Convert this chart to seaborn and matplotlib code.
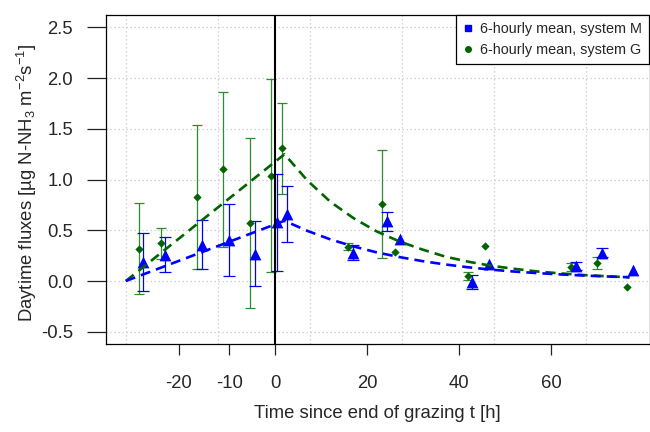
import matplotlib
matplotlib.use("Agg")
import matplotlib.pyplot as plt
import numpy as np
import pandas as pd
import seaborn as sns
from matplotlib.lines import Line2D

# ---- data -------------------------------------------------------------
# system G: 6-hourly means (time in h since end of grazing, flux, +/- error)
g_time = [-29.6, -24.9, -17.1, -11.3, -5.4, -0.9, 1.4, 15.7, 23.3, 26.0, 41.8, 45.6, 64.3, 69.9, 76.5]
g_flux = [0.32, 0.37, 0.83, 1.10, 0.57, 1.04, 1.31, 0.34, 0.76, 0.29, 0.05, 0.35, 0.14, 0.18, -0.06]
g_err = [0.45, 0.15, 0.71, 0.76, 0.84, 0.95, 0.45, 0.03, 0.53, 0.0, 0.04, 0.0, 0.04, 0.06, 0.0]

# system M: 6-hourly means
m_time = [-28.7, -23.9, -16.0, -10.1, -4.4, 0.3, 2.5, 16.8, 24.2, 27.1, 42.8, 46.5, 65.4, 71.0, 77.7]
m_flux = [0.19, 0.26, 0.36, 0.40, 0.27, 0.58, 0.66, 0.28, 0.59, 0.41, -0.01, 0.165, 0.15, 0.28, 0.11]
m_err = [0.285, 0.175, 0.245, 0.355, 0.32, 0.48, 0.28, 0.075, 0.095, 0.0, 0.07, 0.0, 0.04, 0.045, 0.0]

# emission model curves (linear rise, then decay after grazing)
curve_t = [-32.5, 2, 7, 12, 17, 22, 27, 32, 37, 42, 47, 52, 57, 62, 67, 72, 77]
curve_g = [0.0, 1.25, 0.99, 0.78, 0.62, 0.49, 0.39, 0.31, 0.24, 0.19, 0.15, 0.12, 0.094, 0.075, 0.059, 0.047, 0.037]
curve_m = [0.0, 0.594, 0.494, 0.41, 0.341, 0.283, 0.236, 0.196, 0.163, 0.135, 0.112, 0.093, 0.078, 0.065, 0.054, 0.045, 0.037]

# axis annotation
x_tick_pos = [-21, -10, 0, 20, 40, 60]
x_tick_labels = ["-20", "-10", "0", "20", "40", "60"]
y_ticks = [-0.5, 0.0, 0.5, 1.0, 1.5, 2.0, 2.5]
y_tick_labels = ["-0.5", "0.0", "0.5", "1.0", "1.5", "2.0", "2.5"]
grid_x = [-32.5, -12.5, 7.5, 27.5, 47.5, 67.5]

label_m = "6-hourly mean, system M"
label_g = "6-hourly mean, system G"

# ---- style --------------------------------------------------------------
sns.set_theme(style="white")
plt.rcParams["font.family"] = ["Liberation Sans", "DejaVu Sans"]
plt.rcParams["mathtext.fontset"] = "custom"
plt.rcParams["mathtext.rm"] = "Liberation Sans"
plt.rcParams["mathtext.it"] = "Liberation Sans:italic"
plt.rcParams["mathtext.bf"] = "Liberation Sans:bold"

BLUE = "#0000ff"
DKGREEN = "#006400"
ERRGREEN = "#2e8b2e"
FS = 13.3

fig = plt.figure(figsize=(6.5, 4.32), dpi=100)
ax = fig.add_axes([105.7 / 650, 88 / 432, 543.8 / 650, 329 / 432])
ax.set_xlim(-36.87, 81.35)
ax.set_ylim(-0.621, 2.623)

# dotted background grid
for gx in grid_x:
    ax.axvline(gx, color="#c8c8c8", lw=0.9, ls=(0, (1, 2.2)), zorder=0)
for gy in y_ticks:
    ax.axhline(gy, color="#c8c8c8", lw=0.9, ls=(0, (1, 2.2)), zorder=0)

dg = pd.DataFrame({"t": g_time, "flux": g_flux, "err": g_err})
dm = pd.DataFrame({"t": m_time, "flux": m_flux, "err": m_err})
dc = pd.DataFrame({"t": curve_t, "G": curve_g, "M": curve_m})

# error bars
eg = dg[dg["err"] > 0]
ax.errorbar(eg["t"], eg["flux"], yerr=eg["err"], fmt="none", ecolor=ERRGREEN,
            elinewidth=0.9, capsize=3.6, capthick=0.9, zorder=2)
em = dm[dm["err"] > 0]
ax.errorbar(em["t"], em["flux"], yerr=em["err"], fmt="none", ecolor=BLUE,
            elinewidth=0.9, capsize=4.2, capthick=0.9, zorder=3)

# points
sns.scatterplot(data=dg, x="t", y="flux", marker="D", s=18, color=DKGREEN,
                edgecolor=DKGREEN, linewidth=0, ax=ax, zorder=4, legend=False)
sns.scatterplot(data=dm, x="t", y="flux", marker="^", s=72, color=BLUE,
                edgecolor=BLUE, linewidth=0, ax=ax, zorder=5, legend=False)

# model curves
sns.lineplot(data=dc, x="t", y="G", color=DKGREEN, lw=1.9, ls=(0, (3.8, 2.3)),
             ax=ax, zorder=6, sort=False, estimator=None)
sns.lineplot(data=dc, x="t", y="M", color=BLUE, lw=1.9, ls=(0, (3.8, 2.3)),
             ax=ax, zorder=6, sort=False, estimator=None)

# end of grazing
ax.axvline(0, color="black", lw=1.5, zorder=7)

# axes frame and ticks
for sp in ax.spines.values():
    sp.set_visible(True)
    sp.set_color("black")
    sp.set_linewidth(0.9)
ax.set_xticks(x_tick_pos)
ax.set_xticklabels(x_tick_labels, fontsize=FS)
ax.set_yticks(y_ticks)
ax.set_yticklabels(y_tick_labels, fontsize=FS)
ax.tick_params(axis="x", direction="out", length=8, width=0.9, color="#222222",
               pad=14, bottom=True)
ax.tick_params(axis="y", direction="out", length=14, width=0.9, color="#222222",
               pad=9.5, left=True)

ax.set_xlabel("Time since end of grazing t [h]", fontsize=FS)
ax.set_ylabel(r"Daytime fluxes [µg N-NH$_3$ m$^{-2}$s$^{-1}$]", fontsize=FS)
ax.xaxis.set_label_coords(0.5, (344 - 413) / 329)
ax.xaxis.label.set_va("center")
ax.yaxis.set_label_coords((27 - 105.7) / 543.8, 0.49)
ax.yaxis.label.set_va("center")

handles = [
    Line2D([], [], marker="s", color=BLUE, ls="none", markersize=4.5),
    Line2D([], [], marker="o", color=DKGREEN, ls="none", markersize=4.0),
]
leg = ax.legend(handles, [label_m, label_g], loc="upper right", fontsize=10.4,
                frameon=True, fancybox=False, framealpha=1, edgecolor="black",
                borderaxespad=0, borderpad=0.5, handlelength=0.7,
                handletextpad=0.5, labelspacing=0.45)
leg.get_frame().set_linewidth(0.9)
leg.set_zorder(10)

fig.savefig("out.png", dpi=100)
